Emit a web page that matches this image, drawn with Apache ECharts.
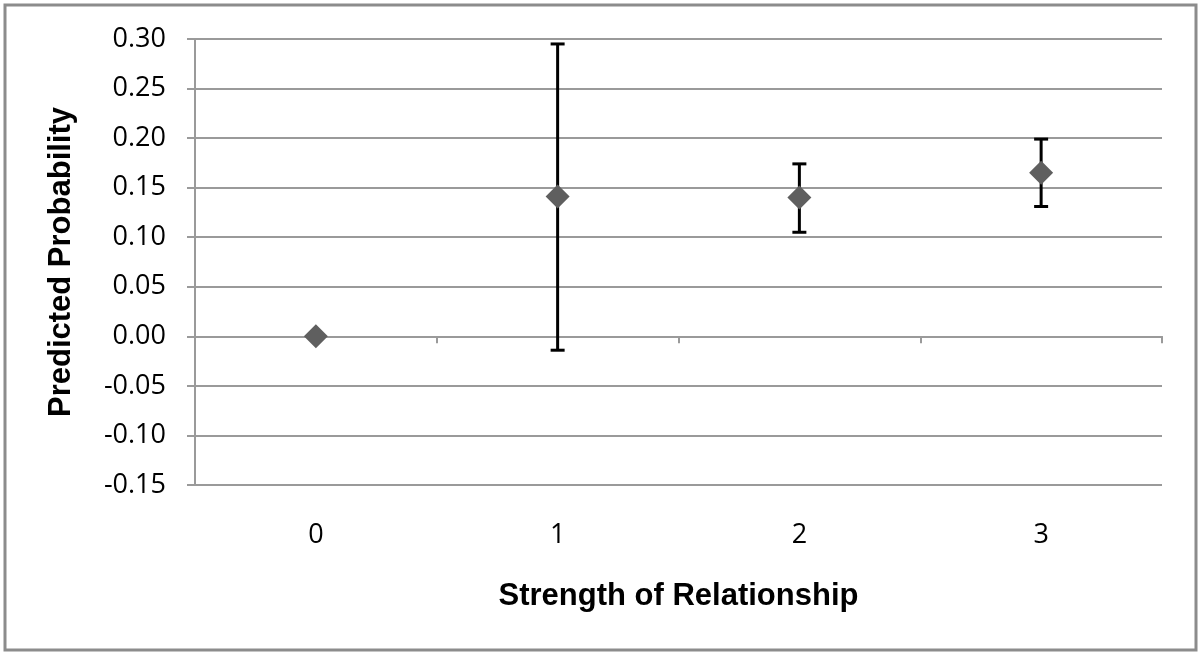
<!DOCTYPE html>
<html style="height: 100%">
<head>
	<meta charset="utf-8">
</head>
<body style="height: 100%; margin: 0; background: #fff">
	<div id="container" style="height: 100%"></div>
	<script type="text/javascript" src="https://cdn.jsdelivr.net/npm/echarts@6/dist/echarts.min.js"></script>
	<script type="text/javascript">
		var categories = ['0', '1', '2', '3'];
		var probability = [0.000, 0.141, 0.140, 0.165];
		var errLow = [null, -0.014, 0.105, 0.131];
		var errHigh = [null, 0.295, 0.174, 0.199];

		var dom = document.getElementById("container");
		var myChart = echarts.init(dom);

		var errData = [];
		for (var i = 0; i < categories.length; i++) {
			if (errLow[i] !== null) {
				errData.push([i, errLow[i], errHigh[i]]);
			}
		}

		var option = {
			animation: false,
			backgroundColor: '#fff',
			textStyle: { fontFamily: 'Open Sans' },
			graphic: [{
				type: 'rect',
				shape: { x: 5, y: 5, width: 1191, height: 645 },
				style: { fill: 'none', stroke: '#8c8c8c', lineWidth: 3 }
			}],
			grid: { left: 195, right: 38, top: 39, bottom: 173 },
			xAxis: [{
				type: 'category',
				data: categories,
				boundaryGap: true,
				axisLine: { onZero: true, lineStyle: { color: '#9a9a9a', width: 2 } },
				axisTick: { show: true, length: 7, lineStyle: { color: '#9a9a9a', width: 2 } },
				axisLabel: { show: false }
			}, {
				type: 'category',
				data: categories,
				position: 'bottom',
				boundaryGap: true,
				axisLine: { show: false },
				axisTick: { show: false },
				axisLabel: { margin: 37, fontSize: 27, color: '#000', fontFamily: 'Open Sans' },
				name: 'Strength of Relationship',
				nameLocation: 'middle',
				nameGap: 96,
				nameTextStyle: { fontSize: 31, fontWeight: 'bold', color: '#000', fontFamily: 'Liberation Sans' }
			}],
			yAxis: {
				type: 'value',
				min: -0.15,
				max: 0.30,
				interval: 0.05,
				axisLine: { show: true, lineStyle: { color: '#9a9a9a', width: 2 } },
				axisTick: { show: true, length: 8, lineStyle: { color: '#9a9a9a', width: 2 } },
				splitLine: { lineStyle: { color: '#9a9a9a', width: 2 } },
				axisLabel: {
					margin: 29, fontSize: 27, color: '#000', fontFamily: 'Open Sans',
					formatter: function (v) { return v.toFixed(2); }
				},
				name: 'Predicted Probability',
				nameLocation: 'middle',
				nameGap: 118,
				nameTextStyle: { fontSize: 31, fontWeight: 'bold', color: '#000', fontFamily: 'Liberation Sans' }
			},
			series: [{
				type: 'custom',
				xAxisIndex: 0,
				data: errData,
				renderItem: function (params, api) {
					var x = api.value(0);
					var lo = api.coord([x, api.value(1)]);
					var hi = api.coord([x, api.value(2)]);
					var half = 7;
					var st = { stroke: '#000', lineWidth: 3, fill: null };
					return {
						type: 'group',
						children: [
							{ type: 'line', shape: { x1: hi[0], y1: hi[1], x2: lo[0], y2: lo[1] }, style: st },
							{ type: 'line', shape: { x1: hi[0] - half, y1: hi[1], x2: hi[0] + half, y2: hi[1] }, style: st },
							{ type: 'line', shape: { x1: lo[0] - half, y1: lo[1], x2: lo[0] + half, y2: lo[1] }, style: st }
						]
					};
				},
				z: 3
			}, {
				type: 'scatter',
				xAxisIndex: 0,
				data: probability,
				symbol: 'diamond',
				symbolSize: [24, 24],
				itemStyle: { color: '#5f5f5f', opacity: 1 },
				z: 4
			}]
		};

		myChart.setOption(option);
	</script>
</body>
</html>
